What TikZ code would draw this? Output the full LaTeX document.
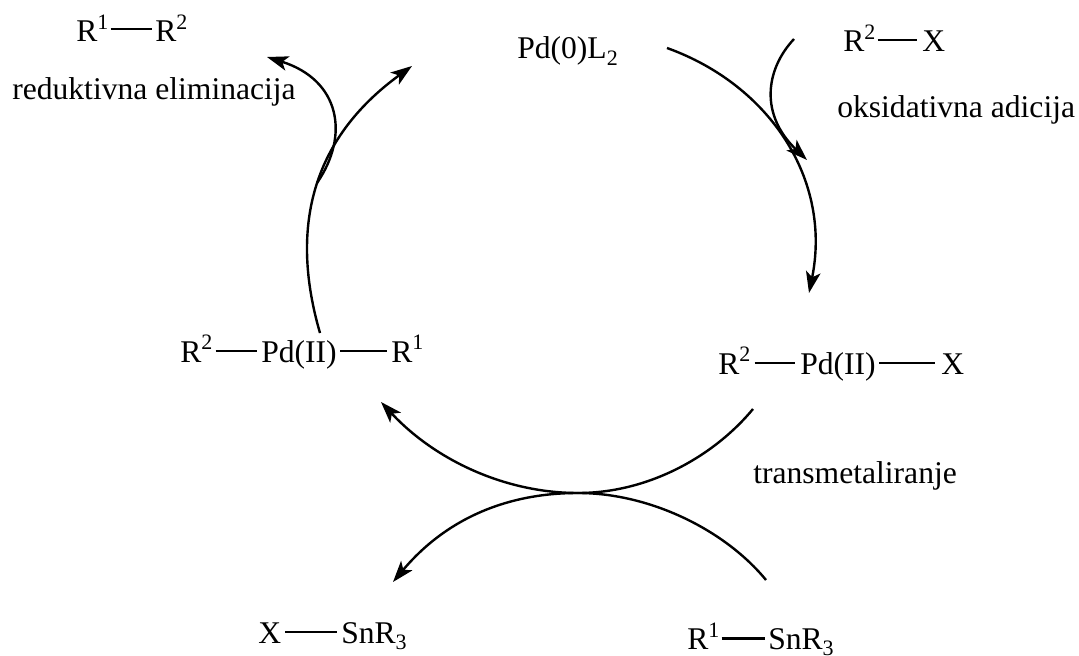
\documentclass[tikz,border=0pt]{standalone}
\usepackage{fontspec}
\setmainfont{Liberation Serif}
\usetikzlibrary{arrows.meta,calc}
\newcommand{\supr}[1]{\raisebox{0.38em}{\fontsize{16.5}{16.5}\selectfont #1}}
\newcommand{\subr}[1]{\raisebox{-0.2em}{\fontsize{16.5}{16.5}\selectfont #1}}
\tikzset{
  fx/.style={x=0.75pt, y=-0.75pt},
  c txt/.style={anchor=base west, inner sep=0pt, font=\fontsize{23.7}{28}\selectfont},
  c bond/.style={line width=2pt},
  c arr/.style={line width=1.8pt, -{Stealth[length=16pt, width=11pt, inset=4pt]}},
  c tail/.style={line width=1.8pt},
}
\begin{document}
\begin{tikzpicture}[fx]
\useasboundingbox (0,0) rectangle (1079,656);
% products and reagents
\node[c txt] (ra) at (76,42) {R\supr{1}};
\node[c txt] (rb) at (155,42) {R\supr{2}};
\node[c txt] (re) at (12,100) {reduktivna eliminacija};
\node[c txt] (pd) at (517,59) {Pd(0)L\subr{2}};
\node[c txt] (rx) at (843,52) {R\supr{2}};
\node[c txt] (xa) at (922,52) {X};
\node[c txt] (oa) at (837,118) {oksidativna adicija};
% palladium complexes
\node[c txt] (lr) at (180,362) {R\supr{2}};
\node[c txt] (lp) at (261,362) {Pd(II)};
\node[c txt] (ls) at (391,362) {R\supr{1}};
\node[c txt] (rr) at (718,374) {R\supr{2}};
\node[c txt] (rp) at (800,374) {Pd(II)};
\node[c txt] (rs) at (941,374) {X};
\node[c txt] (tm) at (753,483) {transmetaliranje};
\node[c txt] (xb) at (258,643) {X};
\node[c txt] (sa) at (341,643) {SnR\subr{3}};
\node[c txt] (rc) at (687,649.5) {R\supr{1}};
\node[c txt] (sb) at (768,649.5) {SnR\subr{3}};
% bonds
\draw[c bond] ([shift={(2,-13)}]ra.base east) -- ([shift={(-3,-13)}]rb.base west);
\draw[c bond] ([shift={(2,-12)}]rx.base east) -- ([shift={(-5,-12)}]xa.base west);
\draw[c bond] ([shift={(3,-11)}]lr.base east) -- ([shift={(-4,-11)}]lp.base west);
\draw[c bond] ([shift={(3,-11)}]lp.base east) -- ([shift={(-4,-11)}]ls.base west);
\draw[c bond] ([shift={(4,-11)}]rr.base east) -- ([shift={(-5,-11)}]rp.base west);
\draw[c bond] ([shift={(3,-11)}]rp.base east) -- ([shift={(-6,-11)}]rs.base west);
\draw[c bond] ([shift={(4,-11)}]xb.base east) -- ([shift={(-4,-11)}]sa.base west);
\draw[c bond] ([shift={(2,-11)}]rc.base east) -- ([shift={(-3,-11)}]sb.base west);
% arrow end points
\coordinate (a0) at (667,48);
\coordinate (a1) at (809,293);
\coordinate (b0) at (794,39);
\coordinate (b1) at (807,160);
\coordinate (c0) at (320,333);
\coordinate (c1) at (412,66);
\coordinate (d0) at (317,183);
\coordinate (d1) at (267,57);
\coordinate (e0) at (753,409);
\coordinate (e1) at (381,402);
\coordinate (f0) at (766,580);
\coordinate (f1) at (393,582);
\coordinate (m) at (578,493);
% arrows
\draw[c arr] (a0) .. controls (770,85) and (832,180) .. (a1);
\draw[c arr] (b0) .. controls (765,70) and (760,115) .. (b1);
\draw[c arr] (c0) .. controls (290,230) and (310,140) .. (c1);
\draw[c arr] (d0) .. controls (350,135) and (340,80) .. (d1);
\draw[c tail] (e0) .. controls (715,455) and (650,493) .. (m);
\draw[c arr] (m) .. controls (505,493) and (435,460) .. (e1);
\draw[c tail] (f0) .. controls (725,530) and (650,493) .. (m);
\draw[c arr] (m) .. controls (505,493) and (445,520) .. (f1);
\end{tikzpicture}
\end{document}
